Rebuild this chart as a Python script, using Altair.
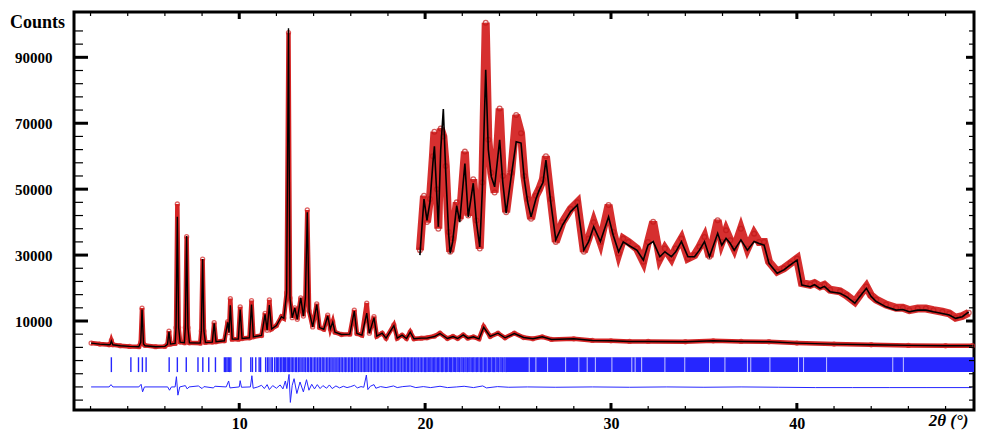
import altair as alt
import pandas as pd

# ---------------- data ----------------
# full pattern: 2theta, calculated, observed
main_deg = [2.03, 2.5, 3.0, 3.06, 3.12, 3.2, 3.6, 4.1, 4.6, 4.7, 4.77, 4.85, 4.93, 5.5, 6.0, 6.14, 6.22, 6.3,
            6.55, 6.6, 6.67, 6.74, 6.82, 7.05, 7.1, 7.17, 7.24, 7.32, 7.9, 7.96, 8.03, 8.1, 8.18, 8.55, 8.65, 8.75,
            9.2, 9.38, 9.45, 9.52, 9.62, 9.95, 10.05, 10.15, 10.55, 10.66, 10.76, 11.2, 11.39, 11.5, 11.62, 11.74,
            12.0, 12.27, 12.4, 12.55, 12.65, 12.73, 12.85, 12.99, 13.12, 13.31, 13.45, 13.56, 13.66, 13.76, 13.95,
            14.17, 14.32, 14.55, 14.76, 14.9, 15.03, 15.15, 15.5, 15.95, 16.19, 16.33, 16.6, 16.86, 17.0, 17.25,
            17.4, 17.69, 17.9, 18.32, 18.5, 18.76, 19.0, 19.2, 19.4, 19.8, 20.1, 20.5, 20.8, 21.2, 21.5, 21.75,
            22.05, 22.3, 22.6, 22.9, 23.15, 23.5, 23.92, 24.3, 24.8, 25.3, 25.8, 26.3, 26.8, 28.0, 29.0, 30.0,
            31.0, 32.0, 34.0, 35.5, 37.0, 38.5, 40.0, 42.0, 44.0, 46.0, 48.0, 49.45]
main_calc = [3300, 3000, 2800, 2900, 3900, 2800, 2500, 2300, 2200, 3500, 13500, 3000, 2500, 2200, 2300, 2900, 6700, 3000,
             3200, 8000, 41600, 8000, 3600, 3400, 8000, 35800, 8000, 3400, 3300, 7000, 28800, 7000, 3500, 3600, 9300, 3700,
             4000, 9600, 6500, 14800, 4500, 4500, 13500, 4700, 4900, 15000, 5200, 5600, 12000, 7200, 14800, 7600,
             8600, 11300, 10800, 18500, 98800, 17000, 11000, 14000, 10500, 17000, 11500, 17000, 43000, 13000, 8200,
             15000, 8000, 7500, 11500, 7600, 9700, 6600, 5900, 6000, 13000, 6200, 5700, 12400, 6300, 11000,
             5400, 6300, 4800, 8600, 4800, 5700, 4700, 6600, 4600, 4800, 4800, 5300, 6200, 4700, 5300, 4700,
             5800, 4800, 5200, 4600, 8100, 5300, 6300, 4900, 6200, 5000, 4600, 5200, 4400, 4600, 4100, 4000,
             3800, 3800, 3700, 4000, 3800, 3700, 3300, 3000, 2800, 2600, 2500, 2500]
main_obs = [3300, 3000, 2800, 2900, 4100, 2800, 2500, 2300, 2200, 3500, 13900, 3000, 2600, 2200, 2300, 2900, 6900, 3000,
            3200, 8000, 45500, 8000, 3600, 3400, 8000, 35600, 8000, 3400, 3300, 7000, 28800, 7000, 3500, 3600, 9500, 3700,
            4000, 9800, 6500, 16800, 4500, 4500, 14300, 4700, 4900, 16200, 5200, 5600, 12300, 7200, 16400, 7600,
            8600, 11300, 10800, 18500, 97500, 17000, 11000, 14000, 10500, 17000, 11500, 17000, 43700, 13000, 8200,
            15200, 8000, 7500, 11800, 7600, 9800, 6600, 5900, 6000, 13300, 6200, 5700, 15400, 6300, 11300,
            5400, 6300, 4800, 8800, 4800, 5700, 4700, 6700, 4600, 4800, 4900, 5400, 6300, 4700, 5300, 4700,
            5800, 4800, 5200, 4600, 8300, 5300, 6300, 4900, 6300, 5000, 4600, 5200, 4400, 4600, 4100, 4000,
            3800, 3800, 3700, 4000, 3800, 3700, 3300, 3000, 2800, 2600, 2500, 2500]

# magnified high-angle part (drawn above the full pattern)
ins_deg = [19.72, 19.94, 20.10, 20.26, 20.42, 20.50, 20.63, 20.71, 20.84, 20.98, 21.11, 21.27, 21.35, 21.48, 21.70,
           21.86, 22.14, 22.32, 22.59, 22.76, 22.94, 23.08, 23.26, 23.40, 23.56, 23.74, 24.01, 24.18, 24.36, 24.63,
           24.90, 25.16, 25.34, 25.52, 25.70, 25.96, 26.14, 26.34, 26.50, 26.76, 27.03, 27.39, 27.83, 28.19, 28.54,
           28.79, 29.07, 29.43, 29.87, 30.12, 30.41, 30.66, 30.94, 31.39, 31.74, 31.99, 32.27, 32.63, 32.90, 33.25,
           33.48, 33.79, 34.14, 34.49, 34.76, 35.03, 35.30, 35.74, 35.96, 36.19, 36.42, 36.63, 36.99, 37.34, 37.70,
           37.97, 38.24, 38.50, 38.94, 39.30, 39.65, 40.01, 40.27, 40.72, 40.95, 41.25, 41.48, 41.79, 42.32, 42.67,
           43.12, 43.40, 43.74, 43.99, 44.27, 44.80, 45.34, 45.70, 46.05, 46.50, 46.94, 47.35, 47.83, 48.20, 48.54,
           48.90, 49.25]
ins_calc = [30000, 47000, 40500, 46000, 58000, 63000, 48000, 38600, 62000, 74300, 55000, 36000, 30500, 34000, 45000,
            40000, 57800, 41600, 51800, 40000, 32500, 50000, 86200, 62000, 53800, 50700, 65000, 52000, 42700, 53800,
            64400, 64000, 52800, 46000, 41600, 47000, 49700, 52000, 58800, 46000, 34600, 39100, 43200, 45200, 31500,
            34000, 38600, 34100, 41600, 36000, 31000, 34000, 33000, 31500, 28500, 33000, 34100, 29500, 31000, 29500,
            31000, 34100, 29500, 29500, 31500, 34100, 29500, 36600, 33000, 35100, 33500, 31500, 34600, 31500, 34100,
            33500, 33000, 27500, 24500, 25500, 27000, 28500, 20900, 20400, 21000, 19900, 20500, 18900, 18400, 17400,
            15400, 17500, 19900, 17500, 15900, 14300, 13300, 13500, 12800, 13300, 13300, 12800, 12300, 11800, 10800,
            11300, 12800]
ins_obs = [31500, 48000, 40000, 47000, 60000, 67400, 50000, 38000, 68400, 66000, 57000, 37000, 31000, 35000, 46000,
           41000, 61400, 42000, 53000, 40500, 32000, 52000, 100500, 65000, 55000, 49000, 74500, 54000, 43000, 55000,
           72500, 67000, 54000, 47000, 41000, 48000, 50000, 53000, 60000, 47000, 34000, 40000, 44000, 46000, 31000,
           35000, 40000, 34000, 45200, 37000, 30500, 35000, 34000, 32000, 28000, 34000, 40100, 29000, 32000, 29000,
           32000, 35000, 29000, 30000, 32500, 35500, 29500, 40600, 34000, 37500, 34500, 32000, 38000, 32000, 36500,
           34000, 34000, 28000, 25000, 26000, 27500, 29000, 21500, 21000, 21500, 20500, 21000, 19500, 19000, 17800,
           15800, 18000, 20500, 17800, 16500, 15000, 14000, 14000, 13300, 13800, 13800, 13300, 12800, 12300, 11000,
           11500, 12500]

# Bragg reflection positions
bragg = [3.12, 4.17, 4.58, 4.79, 4.99, 6.23, 6.67, 7.15, 7.78, 8.04, 8.36, 8.72, 9.20, 9.27, 9.34, 9.41, 9.48, 9.55,
         10.09, 10.62, 10.71, 10.89, 11.07, 11.15, 11.42, 11.52, 11.60, 11.71, 11.78, 11.90, 11.99, 12.06, 12.13,
         12.22, 12.29, 12.37, 12.43, 12.50, 12.58, 12.65, 12.71, 12.79, 12.86, 12.94, 13.03, 13.09, 13.18, 13.26,
         13.33, 13.42, 13.49, 13.57, 13.66, 13.73, 13.82, 13.88, 13.97, 14.06, 14.13, 14.22, 14.30, 14.37, 14.46,
         14.52, 14.61, 14.70, 14.77, 14.85, 14.93, 15.00, 15.09, 15.16, 15.25, 15.32, 15.40, 15.48, 15.55, 15.64,
         15.71, 15.79, 15.88, 15.95, 16.03, 16.10, 16.19, 16.27, 16.34, 16.42, 16.50, 16.57, 16.66, 16.73, 16.81,
         16.88, 16.96, 17.04, 17.11, 17.20, 17.27, 17.35, 17.43, 17.50, 17.58, 17.66, 17.73, 17.81, 17.89, 17.96,
         18.04, 18.12, 18.19, 18.27, 18.35, 18.42, 18.50, 18.58, 18.65, 18.73, 18.81, 18.88, 18.96, 19.04, 19.11,
         19.19, 19.27, 19.34, 19.42, 19.50, 19.57, 19.65, 19.73, 19.80, 19.88, 19.96, 20.03, 20.10, 20.17, 20.25,
         20.31, 20.38, 20.46, 20.52, 20.59, 20.67, 20.73, 20.80, 20.88, 20.94, 21.01, 21.09, 21.15, 21.22, 21.30,
         21.36, 21.43, 21.51, 21.57, 21.64, 21.72, 21.78, 21.85, 21.93, 21.99, 22.06, 22.14, 22.20, 22.27, 22.35,
         22.41, 22.48, 22.56, 22.62, 22.69, 22.77, 22.83, 22.90, 22.98, 23.04, 23.11, 23.19, 23.25, 23.32, 23.40,
         23.46, 23.53, 23.61, 23.67, 23.74, 23.82, 23.88, 23.95, 24.03, 24.09, 24.16, 24.24, 24.30, 24.37]
# beyond ~24.4 deg the reflections merge into a solid band; white gaps inside it
band_start = [24.40]
band_end = [49.53]
band_gaps = [25.60, 25.96, 26.59, 27.56, 28.27, 28.72, 29.16, 30.05, 31.12, 31.30, 31.65, 32.90, 33.97,
             35.30, 36.13, 37.34, 37.52, 38.55, 40.09, 40.36, 41.60, 45.16, 45.73]
tick_top = [-1000]
tick_bot = [-5500]

# difference curve (obs - calc, offset)
diff_deg = [2.03, 3.0, 3.1, 3.2, 4.6, 4.72, 4.8, 4.9, 6.15, 6.25, 6.35, 6.55, 6.62, 6.7, 6.8, 7.1, 7.2, 7.3, 7.8,
            8.0, 8.1, 8.6, 8.7, 9.3, 9.43, 9.5, 10.0, 10.05, 10.12, 10.6, 10.68, 10.75, 11.0, 11.2, 11.35, 11.5,
            11.62, 11.8, 12.0, 12.2, 12.35, 12.48, 12.56, 12.68, 12.75, 12.85, 12.95, 13.1, 13.27, 13.45, 13.62,
            13.75, 13.9, 14.05, 14.2, 14.35, 14.5, 14.7, 14.85, 15.0, 15.2, 15.4, 15.6, 15.8, 16.0, 16.2, 16.35,
            16.55, 16.7, 16.84, 16.92, 17.05, 17.25, 17.35, 17.6, 17.9, 18.3, 18.5, 18.8, 19.2, 19.5, 19.9, 20.3,
            20.8, 21.2, 21.7, 22.1, 22.6, 23.1, 23.3, 23.9, 24.5, 25.5, 27.0, 29.0, 31.0, 33.0, 35.0, 37.0, 39.0,
            41.0, 43.0, 45.0, 47.0, 49.4]
diff_val = [-10000, -10000, -9300, -10000, -10000, -9200, -11500, -10000, -10000, -11000, -10000, -10000, -6900,
            -12500, -10000, -9600, -10600, -10000, -9700, -10500, -9900, -10300, -9800, -10000, -8200, -10300,
            -10000, -8100, -10100, -10000, -6600, -10400, -10000, -9500, -10500, -9300, -10800, -9600, -10400,
            -9400, -10600, -8200, -10500, -6200, -14700, -9500, -7500, -12000, -8500, -11500, -7800, -11000, -9200,
            -10600, -9300, -10500, -9600, -10400, -9400, -10500, -9700, -10300, -9800, -10200, -9900, -9500, -10300,
            -9900, -10100, -6400, -10800, -9800, -9300, -10400, -9900, -10200, -9700, -10200, -9900, -9700, -10200,
            -9900, -10200, -9800, -10200, -10000, -9800, -10200, -9700, -10300, -9900, -10100, -10000, -10100,
            -10000, -10100, -10000, -10100, -10000, -10100, -10200, -10200, -10200, -10200, -10200]

# axis ticks / labels
x_major = [10, 20, 30, 40]
x_minor = [2, 4, 6, 8, 12, 14, 16, 18, 22, 24, 26, 28, 32, 34, 36, 38, 42, 44, 46, 48]
y_major = [10000, 30000, 50000, 70000, 90000]
y_minor = [-14000, -10000, -6000, -2000, 2000, 6000, 14000, 18000, 22000, 26000, 34000, 38000, 42000, 46000,
           54000, 58000, 62000, 66000, 74000, 78000, 82000, 86000, 94000, 98000]

# ---------------- chart ----------------
W, H = 900, 398
xs = alt.Scale(domain=[1.11, 49.53], nice=False, zero=False)
ys = alt.Scale(domain=[-17000, 103750], nice=False, zero=False)
RED = "#d42424"
BLUE = "#2626ff"
FONT = "Liberation Serif"

main_df = pd.DataFrame({"deg": main_deg, "calc": main_calc, "obs": main_obs})
ins_df = pd.DataFrame({"deg": ins_deg, "calc": ins_calc, "obs": ins_obs})
bragg_df = pd.DataFrame({"deg": bragg, "top": tick_top * len(bragg), "bot": tick_bot * len(bragg)})
band_df = pd.DataFrame({"deg": band_start, "b": band_end, "top": tick_top, "bot": tick_bot})
gap_df = pd.DataFrame({"deg": band_gaps, "top": [tick_top[0]] * len(band_gaps), "bot": [tick_bot[0]] * len(band_gaps)})
diff_df = pd.DataFrame({"deg": diff_deg, "top": diff_val})

xaxis = alt.Axis(values=x_major, ticks=False, tickSize=0, domain=False, grid=False, labelFont=FONT,
                 labelFontWeight="bold", labelFontSize=16, labelColor="black", labelPadding=5,
                 title="2θ (°)", titleFont=FONT, titleFontStyle="italic", titleFontWeight="bold",
                 titleFontSize=17, titleColor="black", titleX=874, titleY=15, titleAlign="center",
                 titleBaseline="alphabetic")
yaxis = alt.Axis(values=y_major, format="d", ticks=False, tickSize=0, domain=False, grid=False, labelFont=FONT,
                 labelFontWeight="bold", labelFontSize=15, labelColor="black", labelPadding=22,
                 title="Counts", titleFont=FONT, titleFontWeight="bold", titleFontSize=18, titleColor="black",
                 titleAngle=0, titleX=-37, titleY=15, titleAlign="center", titleBaseline="alphabetic")

X = alt.X("deg:Q", scale=xs, axis=xaxis)


def Y(field):
    return alt.Y(field, type="quantitative", scale=ys, axis=yaxis)


base_main = alt.Chart(main_df)
obs_line = base_main.mark_line(color=RED, strokeWidth=4.5).encode(x=X, y=Y("obs"))
obs_pts = base_main.mark_point(shape="circle", filled=False, color=RED, size=16, strokeWidth=1.3).encode(
    x=X, y=Y("obs"))
calc_line = base_main.mark_line(color="black", strokeWidth=1.4).encode(x=X, y=Y("calc"))

base_ins = alt.Chart(ins_df)
ins_obs_line = base_ins.mark_line(color=RED, strokeWidth=8, opacity=0.95).encode(x=X, y=Y("obs"))
ins_obs_pts = base_ins.mark_point(shape="circle", filled=False, color="#c01818", size=22, strokeWidth=1.3).encode(
    x=X, y=Y("obs"))
ins_calc_line = base_ins.mark_line(color="black", strokeWidth=1.6).encode(x=X, y=Y("calc"))

bragg_rules = alt.Chart(bragg_df).mark_rule(color=BLUE, strokeWidth=1.4).encode(x=X, y=Y("top"), y2="bot:Q")
band = alt.Chart(band_df).mark_rect(color=BLUE).encode(x=X, x2="b:Q", y=Y("top"), y2="bot:Q")
gaps = alt.Chart(gap_df).mark_rule(color="#c8c8ff", strokeWidth=1).encode(x=X, y=Y("top"), y2="bot:Q")

diff_line = alt.Chart(diff_df).mark_line(color=BLUE, strokeWidth=1).encode(x=X, y=Y("top"))


def xt(vals, y0, y1, w):
    return alt.Chart(pd.DataFrame({"deg": vals})).mark_rule(color="black", strokeWidth=w).encode(
        x=X, y=alt.value(y0), y2=alt.value(y1))


def yt(vals, x0, x1, w):
    return alt.Chart(pd.DataFrame({"top": vals})).mark_rule(color="black", strokeWidth=w).encode(
        y=Y("top"), x=alt.value(x0), x2=alt.value(x1))


ticks = [xt(x_minor, H, H - 4, 1.2), xt(x_major, H, H - 7, 3), xt(x_minor, 0, 4, 1.2), xt(x_major, 0, 7, 3),
         yt(y_minor, 0, 9, 1.2), yt(y_major, 0, 14, 3), yt(y_minor, W, W - 5, 1.2), yt(y_major, W, W - 8, 3)]

chart = alt.layer(obs_line, obs_pts, calc_line, ins_obs_line, ins_obs_pts, ins_calc_line,
                  bragg_rules, band, gaps, diff_line, *ticks).properties(
    width=W, height=H, padding={"left": 66, "top": 4, "right": 2, "bottom": 20},
    autosize=alt.AutoSizeParams(type="none"), background="white"
).configure_view(stroke="black", strokeWidth=3)

chart.save("out.html", embed_options={"renderer": "svg", "actions": False})
